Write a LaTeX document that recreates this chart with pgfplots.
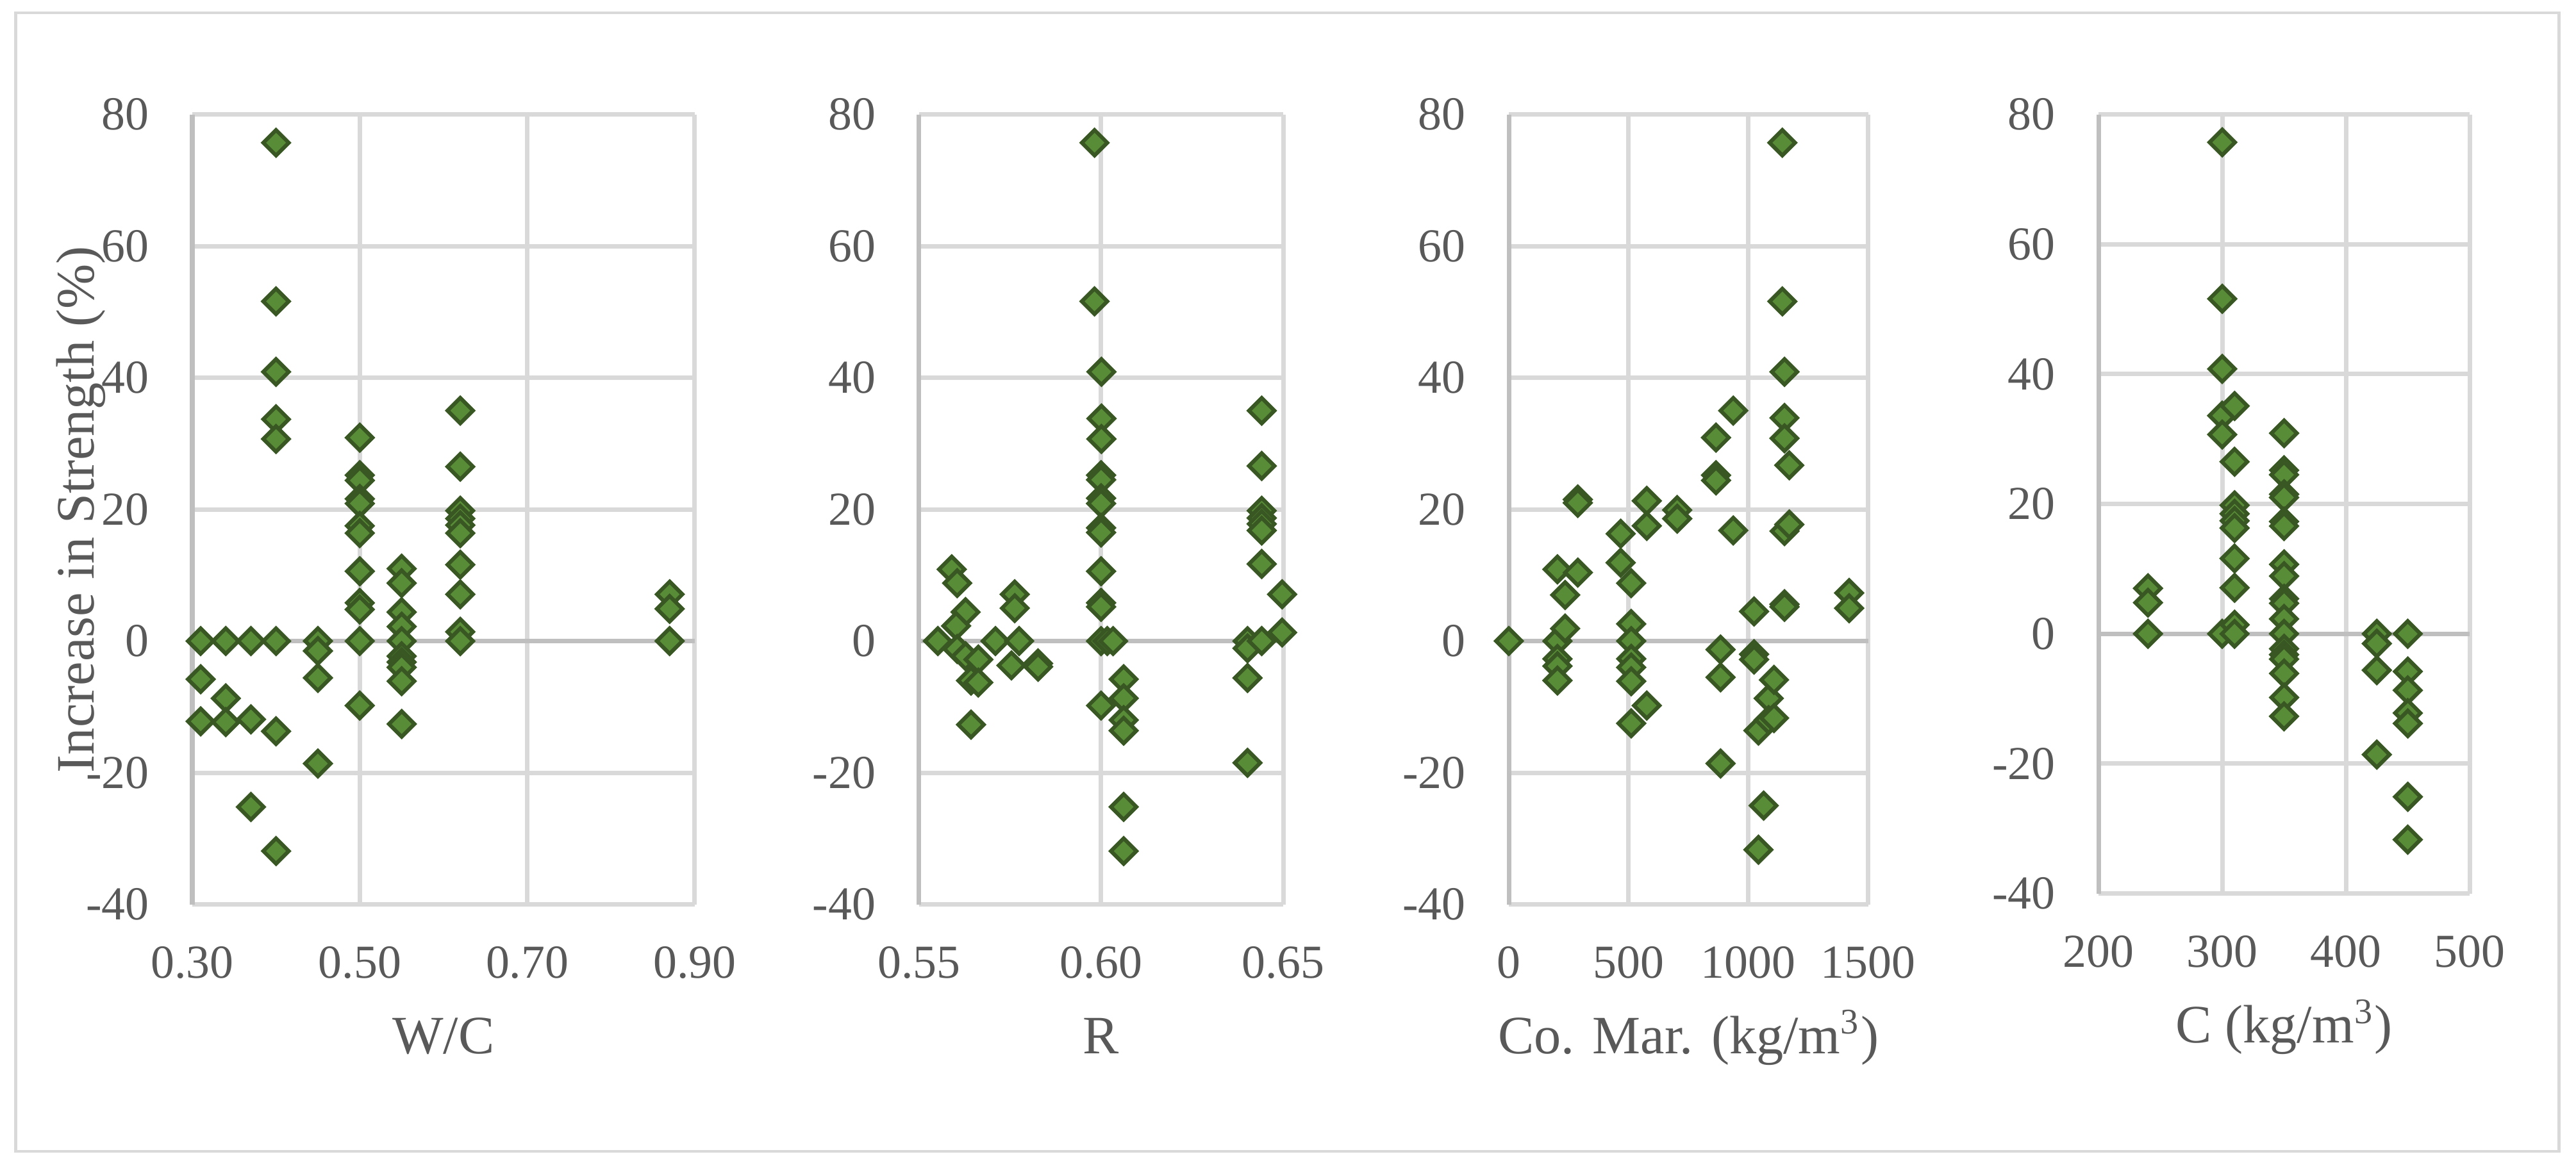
\documentclass[border=0pt]{standalone}
\usepackage{fontspec}
\setmainfont{Liberation Serif}
\usepackage{pgfplots}
\pgfplotsset{compat=1.18}

\definecolor{gridgray}{HTML}{D9D9D9}
\definecolor{axisgray}{HTML}{BFBFBF}
\definecolor{textgray}{HTML}{595959}
\definecolor{markfill}{RGB}{88,140,55}
\definecolor{markdraw}{RGB}{56,87,35}

\pgfplotsset{
  panel/.style={
    scale only axis,
    anchor=south west,
    height=6.1645cm,
    ymin=-40, ymax=80,
    ytick={-40,-20,0,20,40,60,80},
    yticklabels={-40,-20,0,20,40,60,80},
    grid=major,
    major grid style={draw=gridgray, line width=1pt},
    axis line style={draw=none},
    tick style={draw=none},
    major tick length=0pt,
    tick label style={font=\fontsize{10.5}{12}\selectfont, text=textgray, inner sep=0pt},
    yticklabel style={anchor=east, xshift=-0.33cm},
    xticklabel style={anchor=base, yshift=-0.5725cm},
    every axis x label/.style={at={(axis description cs:0.5,0)}, anchor=base,
      yshift=-1.165cm, font=\fontsize{12}{14}\selectfont, text=textgray},
    extra y ticks={0},
    extra y tick labels={},
    extra y tick style={major grid style={draw=axisgray, line width=1pt}},
    extra x tick labels={},
    extra x tick style={major grid style={draw=axisgray, line width=1pt}},
    mark options={rotate=45, fill=markfill, draw=markdraw, line width=0.85pt},
  },
  dots/.style={only marks, mark=square*, mark size=2pt},
}

\begin{document}
\begin{tikzpicture}
\useasboundingbox (0,0) rectangle (20.095,9.11);
\draw[gridgray, line width=0.7pt] (0.123,0.125) rectangle (19.96,9.01);

% W/C
\begin{axis}[panel, at={(1.50cm,2.0525cm)}, width=3.92cm,
    xmin=0.3, xmax=0.9, xtick={0.3,0.5,0.7,0.9},
    xticklabels={0.30,0.50,0.70,0.90}, extra x ticks={0.3},
    xlabel={W/C}, ylabel={Increase in Strength (\%)},
    every axis y label/.style={at={(axis description cs:-0.222,0.5)}, rotate=90,
      anchor=center, font=\fontsize{12}{14}\selectfont, text=textgray}]
\addplot[dots] table {
0.31 0
0.31 -5.8
0.31 -12.2
0.34 0
0.34 -8.7
0.34 -12.3
0.37 0
0.37 -11.9
0.37 -25.2
0.40 75.7
0.40 51.6
0.40 40.9
0.40 33.7
0.40 30.7
0.40 0
0.40 -13.7
0.40 -31.9
0.45 0
0.45 -1.5
0.45 -5.6
0.45 -18.6
0.50 30.9
0.50 25.2
0.50 24.4
0.50 21.6
0.50 20.9
0.50 17.5
0.50 16.4
0.50 10.6
0.50 5.8
0.50 4.8
0.50 0
0.50 -9.8
0.55 11.0
0.55 8.8
0.55 4.4
0.55 2.2
0.55 0
0.55 -2.3
0.55 -3.2
0.55 -4.0
0.55 -6.1
0.55 -12.6
0.62 35.0
0.62 26.5
0.62 19.8
0.62 18.6
0.62 17.6
0.62 16.4
0.62 11.6
0.62 7.1
0.62 1.4
0.62 0
0.87 7.1
0.87 4.9
0.87 0
};
\end{axis}

% R
\begin{axis}[panel, at={(7.1685cm,2.0525cm)}, width=2.8415cm,
    xmin=0.55, xmax=0.65, xtick={0.55,0.6,0.65},
    xticklabels={0.55,0.60,0.65}, extra x ticks={0.55},
    xlabel={R}]
\addplot[dots] table {
0.5552 0
0.5590 10.9
0.5605 8.8
0.5628 4.4
0.5602 2.3
0.5605 -1.2
0.5628 -2.3
0.5663 -2.8
0.5643 -6.0
0.5663 -6.3
0.5643 -12.7
0.5710 0
0.5763 7.1
0.5763 5.0
0.5775 0
0.5754 -3.7
0.5827 -3.4
0.5827 -3.9
0.5982 75.7
0.5982 51.6
0.6001 40.9
0.6001 33.8
0.6001 30.7
0.6000 25.2
0.6000 24.5
0.6000 21.7
0.6000 20.9
0.6000 17.2
0.6000 16.5
0.6000 10.6
0.6000 5.8
0.6000 5.2
0.6000 0
0.6000 -9.8
0.6017 0
0.6033 0
0.6062 -5.8
0.6062 -8.7
0.6062 -12.0
0.6062 -13.6
0.6062 -25.2
0.6062 -31.9
0.6402 0
0.6402 -1.1
0.6402 -5.6
0.6402 -18.5
0.6441 35.0
0.6441 26.6
0.6441 19.8
0.6441 18.7
0.6441 17.8
0.6441 16.8
0.6441 11.7
0.6441 0
0.6497 7.1
0.6497 1.3
};
\end{axis}

% Co. Mar.
\begin{axis}[panel, at={(11.77cm,2.0525cm)}, width=2.8025cm,
    xmin=0, xmax=1500, xtick={0,500,1000,1500},
    xticklabels={0,500,1000,1500}, extra x ticks={0},
    xlabel={Co. Mar. (kg/m\textsuperscript{3})}]
\addplot[dots] table {
0 0
203 10.9
203 0
203 -2.7
203 -3.8
203 -6.0
235 7.0
235 1.9
288 21.5
288 21.0
288 10.4
467 16.3
467 11.9
511 8.8
511 2.6
511 0
511 -2.7
511 -4.0
511 -6.1
511 -12.5
576 21.3
576 17.5
576 -9.8
703 19.9
703 18.6
865 30.9
865 25.2
865 24.4
884 -1.3
884 -5.5
884 -18.6
937 35.0
937 16.8
1024 4.5
1024 -2.0
1024 -2.8
1042 -13.6
1042 -31.7
1064 -25.0
1085 -8.7
1085 -12.0
1107 -5.9
1107 -11.7
1142 75.7
1142 51.6
1151 40.9
1151 33.9
1151 30.8
1151 16.7
1151 5.6
1151 5.2
1171 26.7
1171 17.7
1421 7.3
1421 5.0
};
\end{axis}

% C
\begin{axis}[panel, at={(16.37cm,2.137cm)}, width=2.895cm, height=6.08cm,
    xmin=200, xmax=500, xtick={200,300,400,500},
    xticklabels={200,300,400,500}, extra x ticks={200},
    xlabel={C (kg/m\textsuperscript{3})}]
\addplot[dots] table {
240 7.0
240 4.8
240 0
300 75.7
300 51.6
300 40.8
300 33.6
300 30.7
300 0
310 35.1
310 26.5
310 19.8
310 18.5
310 17.4
310 16.3
310 11.6
310 7.1
310 1.4
310 0
350 30.9
350 25.2
350 24.5
350 21.5
350 21.0
350 17.3
350 16.6
350 10.7
350 8.9
350 5.4
350 4.7
350 2.3
350 0
350 -2.3
350 -3.2
350 -3.9
350 -6.1
350 -9.8
350 -12.7
425 0
425 -1.5
425 -5.6
425 -18.6
450 0
450 -5.8
450 -8.7
450 -12.2
450 -13.8
450 -25.1
450 -31.7
};
\end{axis}
\end{tikzpicture}
\end{document}
